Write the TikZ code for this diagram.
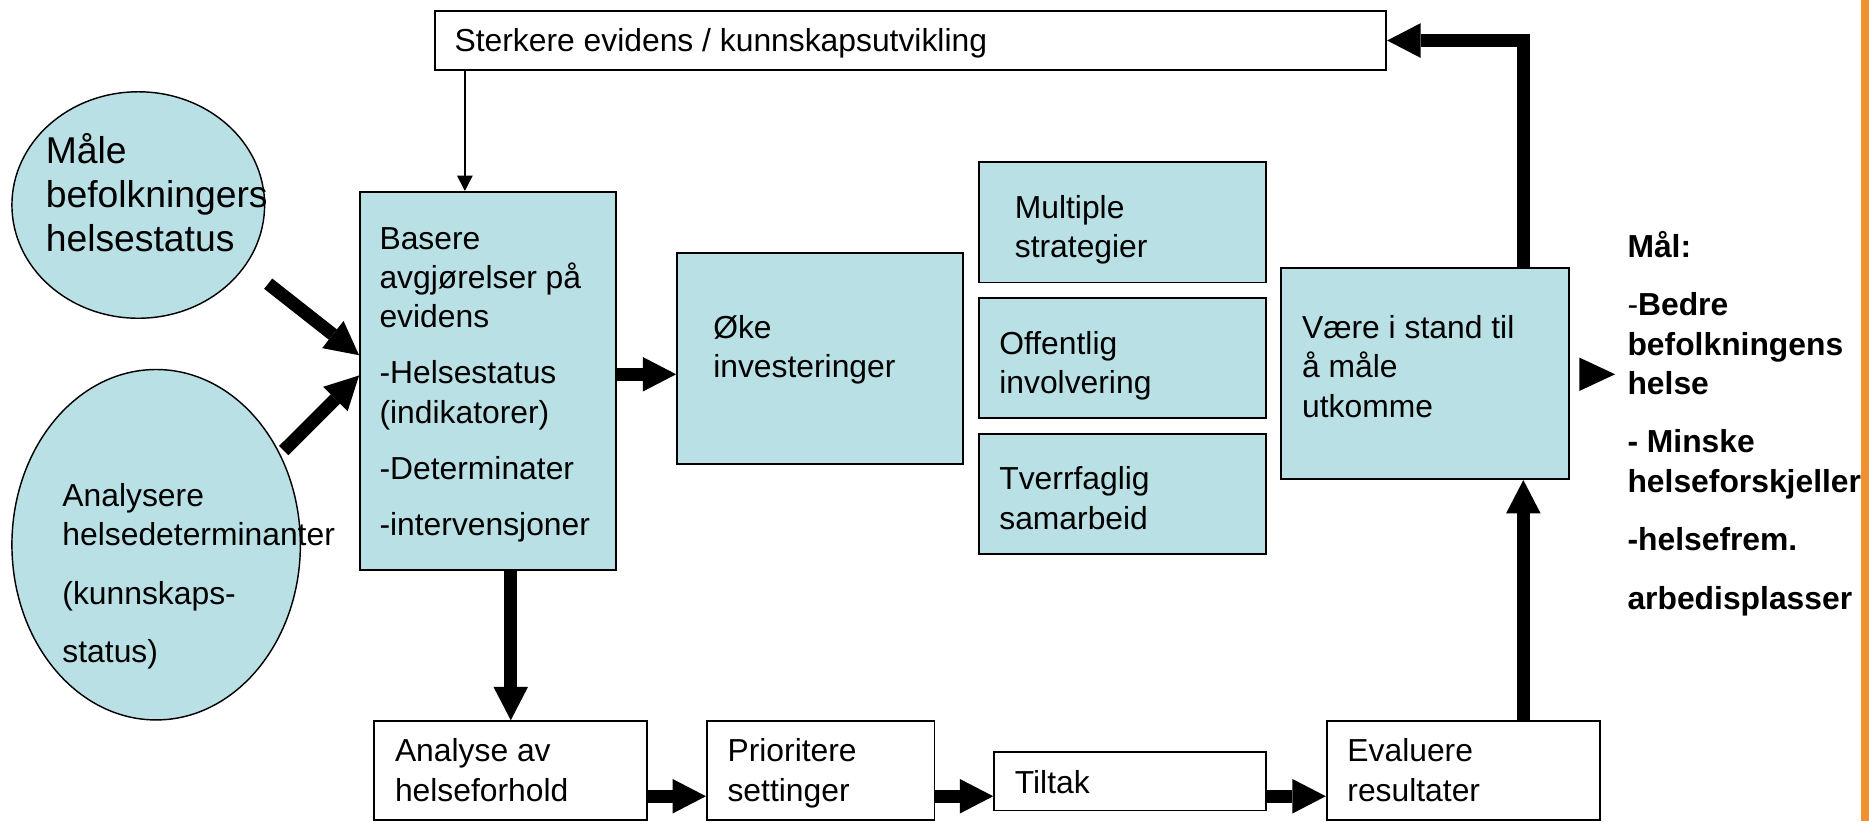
\documentclass[tikz,border=0pt]{standalone}
\usepackage{fontspec}
\setmainfont{Liberation Sans}
\usetikzlibrary{arrows.meta,shapes.geometric}
\definecolor{boxblue}{RGB}{185,224,228}
\definecolor{barorange}{RGB}{241,145,45}
\newcommand{\boxfont}{\fontsize{13.35pt}{16.5pt}\selectfont}
\newcommand{\bigfont}{\fontsize{15.65pt}{18.5pt}\selectfont}
\begin{document}
\begin{tikzpicture}[x=0.5pt,y=-0.5pt,
  box/.style={draw, line width=0.75pt, inner sep=0pt},
  bluebox/.style={box, fill=boxblue},
  oval/.style={ellipse, draw, line width=0.6pt, fill=boxblue, inner sep=0pt},
  txt/.style={align=left, inner sep=0pt, anchor=base west, font=\boxfont},
  fat/.style={line width=5.5pt, -{Triangle[width=14.5pt,length=14pt,line width=0pt]}},
  slim/.style={line width=0.7pt, -{Triangle[width=6.5pt,length=6.5pt]}}]
\useasboundingbox (0,0) rectangle (1568,689);
\fill[barorange] (1561,0) rectangle (1568,689);
\node[oval, minimum width=106pt, minimum height=95pt] (maale) at (116,172) {};
\node[txt, font=\bigfont] (maaletxt) at (38,211) {Måle\\befolkningers\\helsestatus};
\node[oval, minimum width=121pt, minimum height=147pt] (analysere) at (131,457) {};
\node[txt] (analyseretxt) at (52,556) {Analysere\\helsedeterminanter\\[8pt](kunnskaps-\\[8pt]status)};
\node[box, minimum width=399pt, minimum height=25pt] (sterk) at (764,34) {};
\node[txt] (sterktxt) at (381,43) {Sterkere evidens / kunnskapsutvikling};
\node[bluebox, minimum width=107.5pt, minimum height=158.5pt] (basere) at (409.5,319.5) {};
\node[txt] (baseretxt) at (318,449) {Basere\\avgjørelser på\\evidens\\[7pt]-Helsestatus\\(indikatorer)\\[7pt]-Determinater\\[7pt]-intervensjoner};
\node[bluebox, minimum width=120pt, minimum height=88.5pt] (oeke) at (688,300.5) {};
\node[txt] (oeketxt) at (598,317) {Øke\\investeringer};
\node[bluebox, minimum width=120.5pt, minimum height=50.5pt] (multi) at (941.5,186.5) {};
\node[txt] (multitxt) at (851,216) {Multiple\\strategier};
\node[bluebox, minimum width=120.5pt, minimum height=50.5pt] (offentlig) at (941.5,300.5) {};
\node[txt] (offentligtxt) at (838,330) {Offentlig\\involvering};
\node[bluebox, minimum width=120.5pt, minimum height=50.5pt] (tverr) at (941.5,414.5) {};
\node[txt] (tverrtxt) at (838,444) {Tverrfaglig\\samarbeid};
\node[bluebox, minimum width=120.5pt, minimum height=88.5pt] (vaere) at (1195.5,313.5) {};
\node[txt] (vaeretxt) at (1092,350) {Være i stand til\\å måle\\utkomme};
\node[box, minimum width=114.5pt, minimum height=41.5pt] (analyse) at (428.5,646.5) {};
\node[txt] (analysetxt) at (331,672) {Analyse av\\helseforhold};
\node[box, minimum width=95.5pt, minimum height=41.5pt] (prior) at (688.5,646.5) {};
\node[txt] (priortxt) at (610,672) {Prioritere\\settinger};
\node[box, minimum width=114pt, minimum height=24.5pt] (tiltak) at (948,655.5) {};
\node[txt] (tiltaktxt) at (851,666) {Tiltak};
\node[box, minimum width=114.5pt, minimum height=41.5pt] (evaluere) at (1227.5,646.5) {};
\node[txt] (evaluerelabel) at (1130,672) {Evaluere\\resultater};
\node[txt, font=\boxfont\bfseries] (maal) at (1365,511) {Mål:\\[8pt]{\mdseries -}Bedre\\befolkningens\\helse\\[8pt]- Minske\\helseforskjeller\\[8pt]-helsefrem.\\[8pt]arbedisplasser};
\fill (1325,300) -- (1355,314) -- (1325,328) -- cycle;
\coordinate (s1) at (225,238);
\coordinate (s2) at (238,378);
\draw[fat] (s1) -- (basere.west |- 0,298);
\draw[fat] (s2) -- (basere.west |- 0,315);
\draw[fat] (basere.east |- 0,314) -- (oeke.west |- 0,314);
\draw[fat] (basere.south -| analyse.north) -- (analyse.north);
\draw[fat] (analyse.east |- 0,668) -- (prior.west |- 0,668);
\draw[fat] (prior.east |- 0,668) -- (tiltak.west |- 0,668);
\draw[fat] (tiltak.east |- 0,668) -- (evaluere.west |- 0,668);
\draw[fat] (evaluere.north -| 1278,0) -- (vaere.south -| 1278,0);
\draw[fat] (vaere.north -| 1278,0) |- (sterk.east);
\draw[slim] (sterk.south -| 390,0) -- (basere.north -| 390,0);
\end{tikzpicture}
\end{document}
